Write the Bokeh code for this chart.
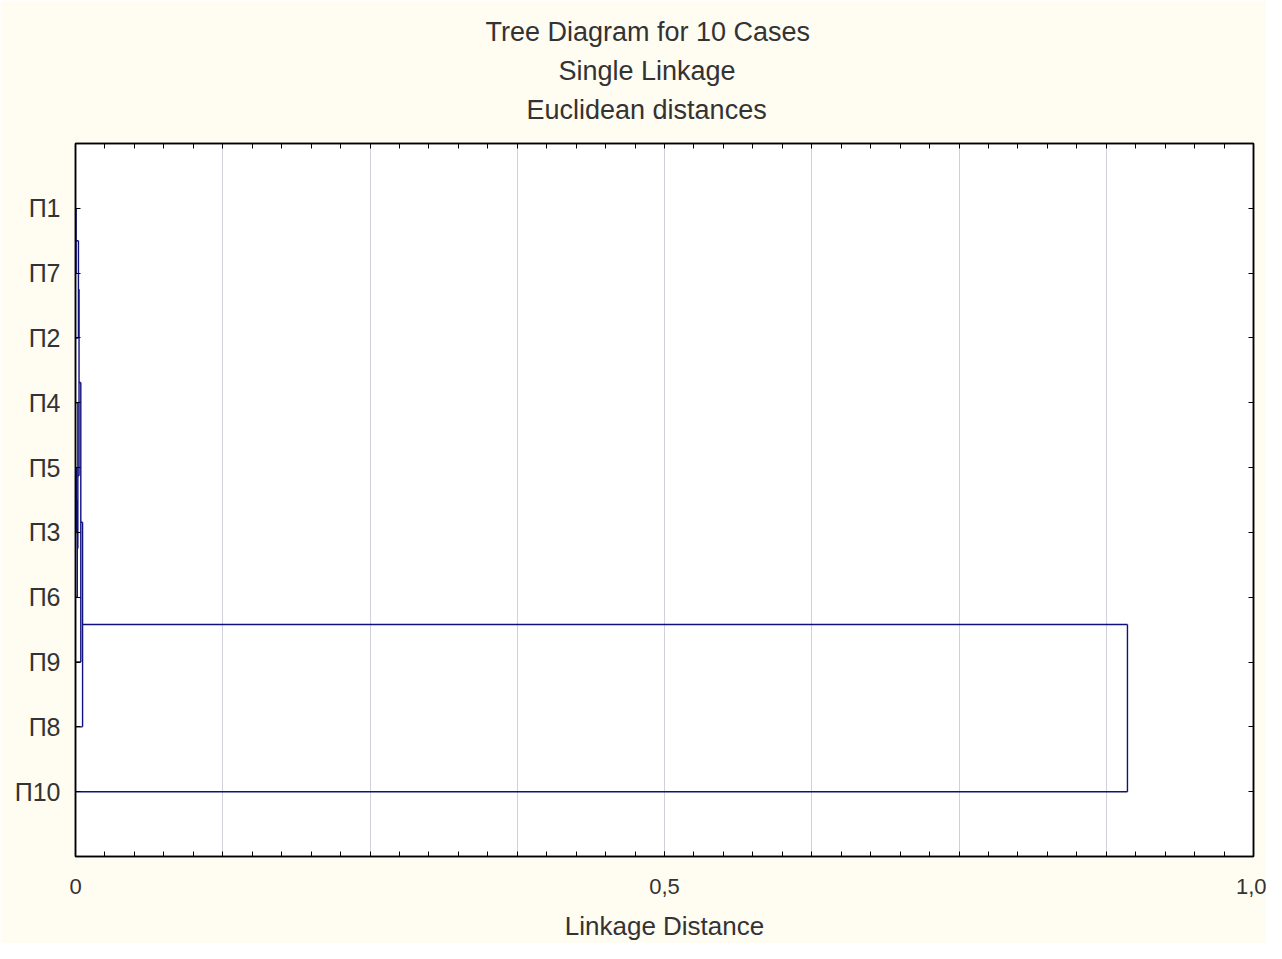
from bokeh.plotting import figure
from bokeh.models import (Range1d, FixedTicker, LinearAxis, Grid, Title)
from bokeh.embed import file_html
from bokeh.resources import INLINE

# ---- data ----
case_labels = ["П1", "П7", "П2", "П4", "П5", "П3", "П6", "П9", "П8", "П10"]
# linkage steps: (cluster a, cluster b, distance); leaves 0..9, new clusters 10+
merge_a = [0, 10, 4, 12, 3, 11, 15, 16, 17]
merge_b = [1, 2, 5, 6, 13, 14, 7, 8, 9]
merge_dist = [0.0005, 0.0025, 0.001, 0.0015, 0.002, 0.003, 0.0045, 0.006, 0.893]
x_tick_values = [0, 0.5, 1.0]
x_tick_labels = ["0", "0,5", "1,0"]
grid_values = [0.125, 0.25, 0.375, 0.5, 0.625, 0.75, 0.875, 1.0]
minor_values = [round(k * 0.025, 3) for k in range(41)]
titles = ["Tree Diagram for 10 Cases", "Single Linkage", "Euclidean distances"]

FONT = "Liberation Sans"
TXT = "#333333"
LINE = "#10107f"

p = figure(width=1266, height=943, output_backend="svg", toolbar_location=None,
           x_range=Range1d(0, 1), y_range=Range1d(11, 0),
           x_axis_location=None, y_axis_location=None,
           min_border_left=75, min_border_right=13, min_border_top=143, min_border_bottom=85)
p.background_fill_color = "white"
p.border_fill_color = "#FFFCF2"
p.outline_line_color = "black"
p.outline_line_width = 1.5
p.xgrid.visible = False
p.ygrid.visible = False

# ---- grid ----
p.add_layout(Grid(dimension=0, ticker=FixedTicker(ticks=grid_values),
                  grid_line_color="#cfd2db", grid_line_width=1))

def style_line(ax):
    ax.axis_line_color = "black"
    ax.axis_line_width = 1.5
    ax.major_tick_line_color = "black"
    ax.minor_tick_line_color = "black"

# bottom axis with labels
xb = LinearAxis(ticker=FixedTicker(ticks=x_tick_values, minor_ticks=minor_values))
style_line(xb)
xb.major_tick_in = 5
xb.major_tick_out = 0
xb.minor_tick_in = 5
xb.minor_tick_out = 0
xb.major_label_overrides = {v: t for v, t in zip(x_tick_values, x_tick_labels)}
xb.major_label_text_font = FONT
xb.major_label_text_font_size = "22px"
xb.major_label_text_color = TXT
xb.major_label_standoff = 22
xb.axis_label = "Linkage Distance"
xb.axis_label_text_font = FONT
xb.axis_label_text_font_size = "26px"
xb.axis_label_text_font_style = "normal"
xb.axis_label_text_color = TXT
xb.axis_label_standoff = 14
p.add_layout(xb, "below")

# top axis: visible inward minor ticks; one invisible outward major tick reserves the gap under the titles
xt = LinearAxis(ticker=FixedTicker(ticks=[0.0], minor_ticks=minor_values))
style_line(xt)
xt.major_tick_in = 0
xt.major_tick_out = 15
xt.major_tick_line_alpha = 0
xt.minor_tick_in = 5
xt.minor_tick_out = 0
xt.major_label_overrides = {0.0: ""}
xt.major_label_standoff = 0
p.add_layout(xt, "above")

# left axis with case labels
yticks = list(range(1, len(case_labels) + 1))
yl = LinearAxis(ticker=FixedTicker(ticks=yticks, minor_ticks=[]))
style_line(yl)
yl.major_tick_in = 5
yl.major_tick_out = 0
yl.minor_tick_in = 0
yl.minor_tick_out = 0
yl.major_label_overrides = {t: lab for t, lab in zip(yticks, case_labels)}
yl.major_label_text_font = FONT
yl.major_label_text_font_size = "25px"
yl.major_label_text_color = TXT
yl.major_label_standoff = 15
p.add_layout(yl, "left")

# right axis: only inward ticks
yr = LinearAxis(ticker=FixedTicker(ticks=[], minor_ticks=yticks))
style_line(yr)
yr.major_tick_in = 0
yr.major_tick_out = 0
yr.minor_tick_in = 5
yr.minor_tick_out = 0
p.add_layout(yr, "right")

# ---- titles (first added is closest to the plot), left aligned so they centre on the page ----
for txt, off in [(titles[2], 451), (titles[1], 483), (titles[0], 410)]:
    p.add_layout(Title(text=txt, align="left", offset=off, text_font=FONT, text_font_size="27px",
                       text_font_style="normal", text_color=TXT, standoff=7), "above")

# ---- dendrogram ----
node_y = {i: float(i + 1) for i in range(len(case_labels))}
node_x = {i: 0.0 for i in range(len(case_labels))}
x0s, y0s, x1s, y1s = [], [], [], []
for k, (a, b, d) in enumerate(zip(merge_a, merge_b, merge_dist)):
    ya, yb = node_y[a], node_y[b]
    x0s += [node_x[a], node_x[b], d]
    y0s += [ya, yb, ya]
    x1s += [d, d, d]
    y1s += [ya, yb, yb]
    new = len(case_labels) + k
    node_y[new] = (ya + yb) / 2
    node_x[new] = d

p.segment(x0=x0s, y0=y0s, x1=x1s, y1=y1s, line_color=LINE, line_width=1.4)

open("out.html", "w").write(file_html(p, INLINE))
